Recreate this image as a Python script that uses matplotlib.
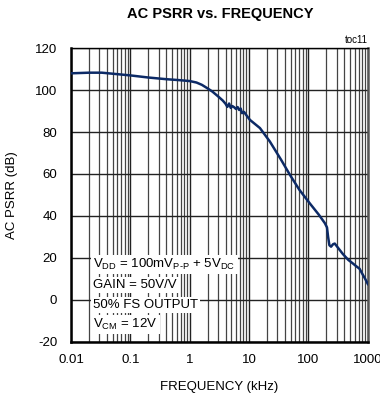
import matplotlib
matplotlib.use("Agg")
import matplotlib.pyplot as plt
from matplotlib.ticker import FixedLocator, NullFormatter, LogLocator

plt.rcParams["font.family"] = ["Liberation Sans", "DejaVu Sans"]
plt.rcParams["axes.unicode_minus"] = False
plt.rcParams["mathtext.fontset"] = "custom"
plt.rcParams["mathtext.rm"] = "Liberation Sans"

# AC PSRR curve
freq_khz = [0.01, 0.02, 0.033, 0.06, 0.1, 0.2, 0.4, 0.7, 1.0, 1.3, 1.6, 2.0, 2.4,
            3.0, 3.6, 4.0, 4.3, 4.6, 4.9, 5.2, 5.6, 6.0, 6.4, 6.8, 7.2, 7.6, 8.2,
            9.0, 10.3, 15.2, 22.3, 35, 48.6, 70, 105, 150, 189, 205, 214, 225,
            240, 260, 277, 320, 380, 469, 560, 650, 725, 820, 900, 1000]
psrr_db = [108.0, 108.3, 108.3, 107.6, 107.0, 106.0, 105.2, 104.7, 104.3, 103.6,
           102.5, 100.8, 99.3, 97.0, 95.0, 93.5, 92.0, 93.6, 91.5, 92.4, 91.8,
           91.0, 91.9, 90.5, 91.2, 89.0, 89.6, 88.0, 85.8, 81.9, 75.5, 66.5,
           59.6, 52.5, 46.0, 40.5, 36.5, 34.5, 30.0, 26.0, 25.3, 26.5, 26.8,
           24.5, 21.8, 19.0, 17.3, 15.8, 14.8, 12.0, 10.0, 7.5]

conditions = [r"V$_{\mathrm{DD}}$ = 100mV$_{\mathrm{P\text{-}P}}$ + 5V$_{\mathrm{DC}}$",
              "GAIN = 50V/V",
              "50% FS OUTPUT",
              r"V$_{\mathrm{CM}}$ = 12V"]

x_ticks = [0.01, 0.1, 1, 10, 100, 1000]
x_ticklabels = ["0.01", "0.1", "1", "10", "100", "1000"]
y_ticks = [-20, 0, 20, 40, 60, 80, 100, 120]

fig = plt.figure(figsize=(3.8, 3.98), dpi=100)
ax = fig.add_axes([0.187, 0.1415, 0.781, 0.7375])

ax.semilogx(freq_khz, psrr_db, color="#0c2a66", linewidth=1.8, zorder=3)
ax.set_xlim(0.01, 1000)
ax.set_ylim(-20, 120)

ax.xaxis.set_major_locator(FixedLocator(x_ticks))
ax.set_xticklabels(x_ticklabels)
ax.xaxis.set_minor_locator(LogLocator(base=10, subs=range(2, 10), numticks=20))
ax.xaxis.set_minor_formatter(NullFormatter())
ax.set_yticks(y_ticks)

ax.grid(which="major", axis="both", color="#222222", linewidth=1.0)
ax.grid(which="minor", axis="x", color="#444444", linewidth=0.9)
ax.tick_params(which="both", length=0, labelsize=9.5, colors="black")
ax.tick_params(axis="x", pad=9)
ax.tick_params(axis="y", pad=10)
for s in ax.spines.values():
    s.set_linewidth(1.8)
ax.spines["right"].set_color("#555555")
ax.spines["top"].set_linewidth(1.0)

ax.set_xlabel("FREQUENCY (kHz)", fontsize=9.5, labelpad=11)
ax.set_ylabel("AC PSRR (dB)", fontsize=9.5, labelpad=12)

fig.text(0.58, 0.965, "AC PSRR vs. FREQUENCY", ha="center", va="center",
         fontsize=10.5, fontweight="bold")
ax.text(1.0, 1.01, "toc11", transform=ax.transAxes, ha="right", va="bottom",
        fontsize=7)

# conditions block, each line on its own white patch
for i, line in enumerate(conditions):
    ax.text(0.075, 0.262 - i * 0.068, line, transform=ax.transAxes,
            ha="left", va="center", fontsize=9.5, zorder=4,
            bbox=dict(facecolor="white", edgecolor="none", pad=1.5))

fig.savefig("out.png", dpi=100)
